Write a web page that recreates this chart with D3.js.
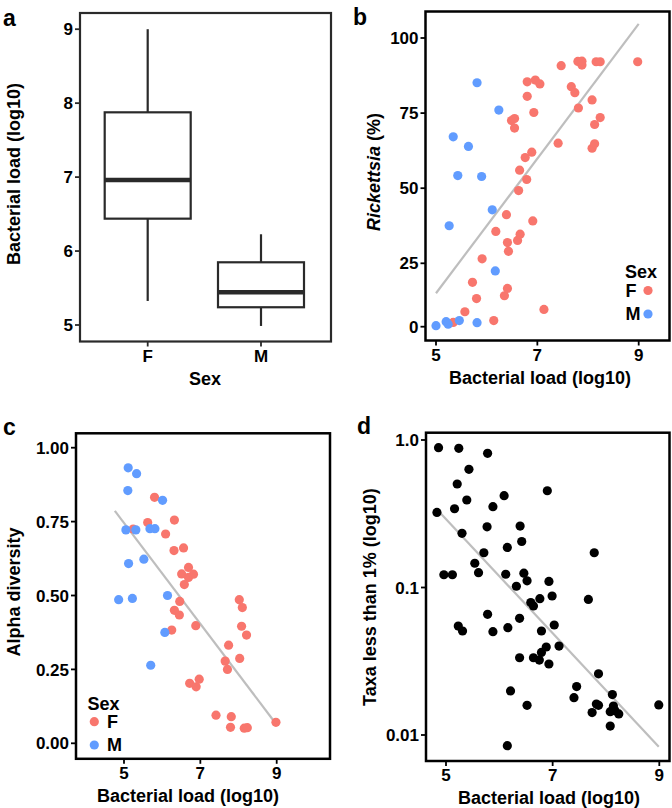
<!DOCTYPE html>
<html>
<head>
<meta charset="utf-8">
<script src="https://cdn.jsdelivr.net/npm/d3@7"></script>
<style>
  html, body { margin: 0; padding: 0; background: #fff; }
  svg text { font-family: "Liberation Sans", Arial, Helvetica, sans-serif; font-weight: bold; fill: #000; }
</style>
</head>
<body>
<svg id="chart" width="672" height="808"></svg>
<script>
// ---------- DATA ----------
// Panel a: box plot of bacterial load by sex
const sexCategories = ["F", "M"];
const boxWhiskerLow = [5.325, 4.987];
const boxQ1 = [6.438, 5.240];
const boxMedian = [6.961, 5.442];
const boxQ3 = [7.876, 5.848];
const boxWhiskerHigh = [9.0, 6.227];
const aTicks = [5, 6, 7, 8, 9];

// Panel b: Rickettsia (%) vs bacterial load
const bLoadF = [5.34, 5.57, 5.72, 5.80, 5.91, 6.14, 6.18, 6.35, 6.41, 6.39, 6.41, 6.43, 6.61, 6.66, 6.63, 6.65, 6.79, 6.91, 6.76, 6.89, 6.93, 6.80, 6.80, 6.96, 7.05, 6.49, 6.55, 6.55, 7.13, 7.41, 7.47, 7.67, 7.74, 7.81, 7.80, 7.88, 7.88, 8.08, 8.13, 8.13, 8.08, 8.24, 8.16, 8.24, 8.98];
const bRickF = [1.7, 5.9, 17.5, 11.1, 26.5, 2.4, 35.6, 12.2, 15.1, 41.2, 31.9, 29.0, 32.6, 34.7, 49.2, 56.0, 52.9, 39.1, 60.2, 62.0, 75.2, 80.6, 85.4, 86.0, 84.7, 72.5, 73.2, 70.0, 6.8, 65.0, 90.8, 83.8, 81.8, 76.7, 92.2, 91.0, 92.3, 63.3, 64.8, 71.2, 79.4, 73.5, 92.1, 92.1, 92.1];
const bLoadM = [5.81, 6.24, 5.34, 5.64, 5.43, 5.90, 5.26, 6.11, 6.17, 5.00, 5.20, 5.24, 5.46, 5.81];
const bRickM = [85.1, 76.0, 67.1, 63.9, 54.2, 53.9, 37.5, 42.8, 22.0, 0.4, 1.97, 1.0, 2.4, 1.6];
const bFitX = [5.0, 9.0];
const bFitY = [13.2, 104.7];
const bYTicks = [0, 25, 50, 75, 100];
const loadTicks = [5, 7, 9];

// Panel c: Alpha diversity vs bacterial load
const cLoadF = [5.80, 5.24, 5.62, 6.32, 6.09, 6.31, 6.56, 6.69, 6.51, 6.69, 6.82, 6.58, 6.46, 6.32, 6.45, 6.25, 6.88, 7.74, 7.65, 7.71, 8.03, 8.02, 8.10, 8.08, 8.21, 6.72, 6.89, 6.97, 7.41, 7.81, 7.79, 8.15, 8.23, 8.98];
const cAlphaF = [0.832, 0.725, 0.747, 0.755, 0.708, 0.652, 0.661, 0.595, 0.573, 0.561, 0.572, 0.537, 0.480, 0.450, 0.434, 0.383, 0.398, 0.332, 0.278, 0.250, 0.287, 0.486, 0.459, 0.396, 0.366, 0.203, 0.191, 0.217, 0.095, 0.090, 0.054, 0.051, 0.053, 0.071];
const cLoadM = [5.11, 5.33, 5.10, 6.01, 5.05, 5.31, 5.68, 5.81, 5.12, 5.52, 4.86, 5.22, 6.14, 6.07, 5.70];
const cAlphaM = [0.932, 0.912, 0.855, 0.822, 0.722, 0.722, 0.726, 0.726, 0.608, 0.623, 0.486, 0.490, 0.500, 0.375, 0.264];
const cFitX = [4.76, 8.94];
const cFitY = [0.786, 0.073];
const cYTicks = [0, 0.25, 0.5, 0.75, 1.0];
const cYTickLabels = ["0.00", "0.25", "0.50", "0.75", "1.00"];

// Panel d: Taxa less than 1% vs bacterial load
const dLoad = [4.86, 5.24, 5.78, 5.43, 5.21, 5.39, 6.09, 6.90, 5.16, 4.83, 5.88, 5.77, 5.30, 6.39, 6.42, 6.15, 5.71, 7.78, 5.54, 5.61, 4.96, 5.12, 6.12, 6.46, 6.52, 6.32, 6.93, 6.99, 6.76, 6.59, 6.64, 7.67, 5.78, 6.38, 7.03, 5.23, 5.31, 5.88, 6.16, 6.79, 7.12, 6.88, 6.79, 6.64, 6.75, 6.38, 6.93, 7.86, 7.45, 6.21, 8.12, 7.40, 6.52, 7.82, 7.86, 8.99, 7.74, 8.08, 8.14, 8.17, 8.24, 8.08, 6.15];
const dTaxa = [0.887, 0.878, 0.812, 0.633, 0.503, 0.392, 0.419, 0.453, 0.342, 0.323, 0.353, 0.258, 0.233, 0.261, 0.205, 0.187, 0.172, 0.172, 0.146, 0.126, 0.122, 0.122, 0.123, 0.125, 0.111, 0.102, 0.110, 0.0876, 0.084, 0.079, 0.075, 0.083, 0.0658, 0.0618, 0.0557, 0.0548, 0.0507, 0.0502, 0.0534, 0.0507, 0.0401, 0.0395, 0.0363, 0.0334, 0.0322, 0.0334, 0.0303, 0.026, 0.0213, 0.0199, 0.0188, 0.0179, 0.0159, 0.0162, 0.0159, 0.016, 0.0142, 0.0144, 0.0157, 0.0146, 0.0139, 0.0115, 0.00847];
const dFitX = [4.84, 8.99];
const dFitY = [0.335, 0.00834];
const dYTicks = [0.01, 0.1, 1.0];
const dYTickLabels = ["0.01", "0.1", "1.0"];

// ---------- STYLE ----------
const colF = "#F8766D", colM = "#619CFF";
const fitCol = "#BEBEBE";
const ptR = 4.6;
const tickFont = 17, titleFont = 18, letterFont = 23;

const svg = d3.select("#chart");

function frame(g, L, stroke, sw) {
  g.append("rect").attr("x", L.x0).attr("y", L.y0)
    .attr("width", L.x1 - L.x0).attr("height", L.y1 - L.y0)
    .attr("fill", "none").attr("stroke", stroke).attr("stroke-width", sw);
}

function yAxis(g, L, scale, ticks, labels, col) {
  const ax = g.append("g");
  ticks.forEach((t, i) => {
    const y = scale(t);
    ax.append("line").attr("x1", L.x0 - 5).attr("x2", L.x0).attr("y1", y).attr("y2", y)
      .attr("stroke", col).attr("stroke-width", 1.8);
    ax.append("text").attr("x", L.x0 - 7).attr("y", y).attr("dy", "0.36em")
      .attr("text-anchor", "end").attr("font-size", tickFont).text(labels ? labels[i] : t);
  });
}

function xAxis(g, L, scale, ticks, col) {
  const ax = g.append("g");
  ticks.forEach(t => {
    const x = scale(t);
    ax.append("line").attr("x1", x).attr("x2", x).attr("y1", L.y1).attr("y2", L.y1 + 5)
      .attr("stroke", col).attr("stroke-width", 1.8);
    ax.append("text").attr("x", x).attr("y", L.y1 + 20)
      .attr("text-anchor", "middle").attr("font-size", tickFont).text(t);
  });
}

function titles(g, L, xt, yt, yTitleX, yTitleY, letter, letterX, letterY) {
  g.append("text").attr("x", (L.xc !== undefined ? L.xc : (L.x0 + L.x1) / 2)).attr("y", L.y1 + 43)
    .attr("text-anchor", "middle").attr("font-size", titleFont).text(xt);
  const yt_ = g.append("text").attr("transform", `translate(${yTitleX},${yTitleY}) rotate(-90)`)
    .attr("text-anchor", "middle").attr("font-size", titleFont);
  if (typeof yt === "string") yt_.text(yt);
  else yt.forEach(p => yt_.append("tspan").attr("font-style", p.italic ? "italic" : "normal").text(p.t));
  g.append("text").attr("x", letterX).attr("y", letterY).attr("font-size", letterFont).text(letter);
}

function fitLine(g, xs, ys, xScale, yScale) {
  g.append("line")
    .attr("x1", xScale(xs[0])).attr("y1", yScale(ys[0]))
    .attr("x2", xScale(xs[1])).attr("y2", yScale(ys[1]))
    .attr("stroke", fitCol).attr("stroke-width", 2.2);
}

function points(g, xs, ys, xScale, yScale, col) {
  g.append("g").selectAll("circle").data(xs.map((x, i) => [x, ys[i]])).join("circle")
    .attr("cx", d => xScale(d[0])).attr("cy", d => yScale(d[1]))
    .attr("r", ptR).attr("fill", col);
}

// ---------- PANEL A ----------
{
  const L = { x0: 80, x1: 331, y0: 13, y1: 341.5, xc: 205 };
  const g = svg.append("g");
  const x = d3.scalePoint().domain(sexCategories).range([147.7, 261]);
  const y = d3.scaleLinear().domain([5, 9]).range([325, 29.2]);
  const dark = "#2a2a2a";
  const bw = 86;
  sexCategories.forEach((c, i) => {
    const cx = x(c);
    g.append("line").attr("x1", cx).attr("x2", cx).attr("y1", y(boxWhiskerHigh[i])).attr("y2", y(boxQ3[i]))
      .attr("stroke", dark).attr("stroke-width", 2.2);
    g.append("line").attr("x1", cx).attr("x2", cx).attr("y1", y(boxQ1[i])).attr("y2", y(boxWhiskerLow[i]))
      .attr("stroke", dark).attr("stroke-width", 2.2);
    g.append("rect").attr("x", cx - bw / 2).attr("y", y(boxQ3[i])).attr("width", bw)
      .attr("height", y(boxQ1[i]) - y(boxQ3[i])).attr("fill", "#fff").attr("stroke", dark).attr("stroke-width", 2.2);
    g.append("line").attr("x1", cx - bw / 2).attr("x2", cx + bw / 2).attr("y1", y(boxMedian[i])).attr("y2", y(boxMedian[i]))
      .attr("stroke", dark).attr("stroke-width", 4.5);
  });
  frame(g, L, dark, 2.2);
  yAxis(g, L, y, aTicks, null, dark);
  xAxis(g, L, x, sexCategories, dark);
  titles(g, L, "Sex", "Bacterial load (log10)", 20, 174, "a", 3, 26);
}

// ---------- PANEL B ----------
{
  const L = { x0: 425.5, x1: 669.5, y0: 11.5, y1: 340.5, xc: 540 };
  const g = svg.append("g");
  const x = d3.scaleLinear().domain([5, 9]).range([436, 638.7]);
  const y = d3.scaleLinear().domain([0, 25, 100]).range([326.7, 263.3, 38]);
  fitLine(g, bFitX, bFitY, x, y);
  points(g, bLoadF, bRickF, x, y, colF);
  points(g, bLoadM, bRickM, x, y, colM);
  frame(g, L, "#000", 2.5);
  yAxis(g, L, y, bYTicks, null, "#000");
  xAxis(g, L, x, loadTicks, "#000");
  titles(g, L, "Bacterial load (log10)", [{ t: "Rickettsia", italic: true }, { t: " (%)" }], 380, 172, "b", 353, 25);
  // legend
  const lg = g.append("g");
  lg.append("text").attr("x", 625).attr("y", 278).attr("font-size", titleFont).text("Sex");
  [["F", colF, 290.5], ["M", colM, 314]].forEach(([lab, col, yy]) => {
    lg.append("circle").attr("cx", 648).attr("cy", yy).attr("r", ptR).attr("fill", col);
    lg.append("text").attr("x", 625.5).attr("y", yy).attr("dy", "0.36em").attr("font-size", titleFont).text(lab);
  });
}

// ---------- PANEL C ----------
{
  const L = { x0: 76, x1: 330, y0: 433.3, y1: 758.8, xc: 188 };
  const g = svg.append("g");
  const x = d3.scaleLinear().domain([5, 9]).range([124, 276.7]);
  const y = d3.scaleLinear().domain([0, 1]).range([743.3, 447.7]);
  fitLine(g, cFitX, cFitY, x, y);
  points(g, cLoadF, cAlphaF, x, y, colF);
  points(g, cLoadM, cAlphaM, x, y, colM);
  frame(g, L, "#000", 2.5);
  yAxis(g, L, y, cYTicks, cYTickLabels, "#000");
  xAxis(g, L, x, loadTicks, "#000");
  titles(g, L, "Bacterial load (log10)", "Alpha diversity", 20, 592, "c", 3, 435);
  const lg = g.append("g");
  lg.append("text").attr("x", 87.5).attr("y", 710).attr("font-size", titleFont).text("Sex");
  [["F", colF, 721.7], ["M", colM, 745]].forEach(([lab, col, yy]) => {
    lg.append("circle").attr("cx", 94.3).attr("cy", yy).attr("r", ptR).attr("fill", col);
    lg.append("text").attr("x", 107).attr("y", yy).attr("dy", "0.36em").attr("font-size", titleFont).text(lab);
  });
}

// ---------- PANEL D ----------
{
  const L = { x0: 426, x1: 669.5, y0: 432.7, y1: 761, xc: 549 };
  const g = svg.append("g");
  const x = d3.scaleLinear().domain([5, 9]).range([446, 659.3]);
  const y = d3.scaleLog().domain([0.01, 1]).range([735, 440]);
  fitLine(g, dFitX, dFitY, x, y);
  points(g, dLoad, dTaxa, x, y, "#000");
  frame(g, L, "#000", 2.5);
  yAxis(g, L, y, dYTicks, dYTickLabels, "#000");
  xAxis(g, L, x, loadTicks, "#000");
  titles(g, L, "Bacterial load (log10)", "Taxa less than 1% (log10)", 376, 597, "d", 357, 434);
}
</script>
</body>
</html>
